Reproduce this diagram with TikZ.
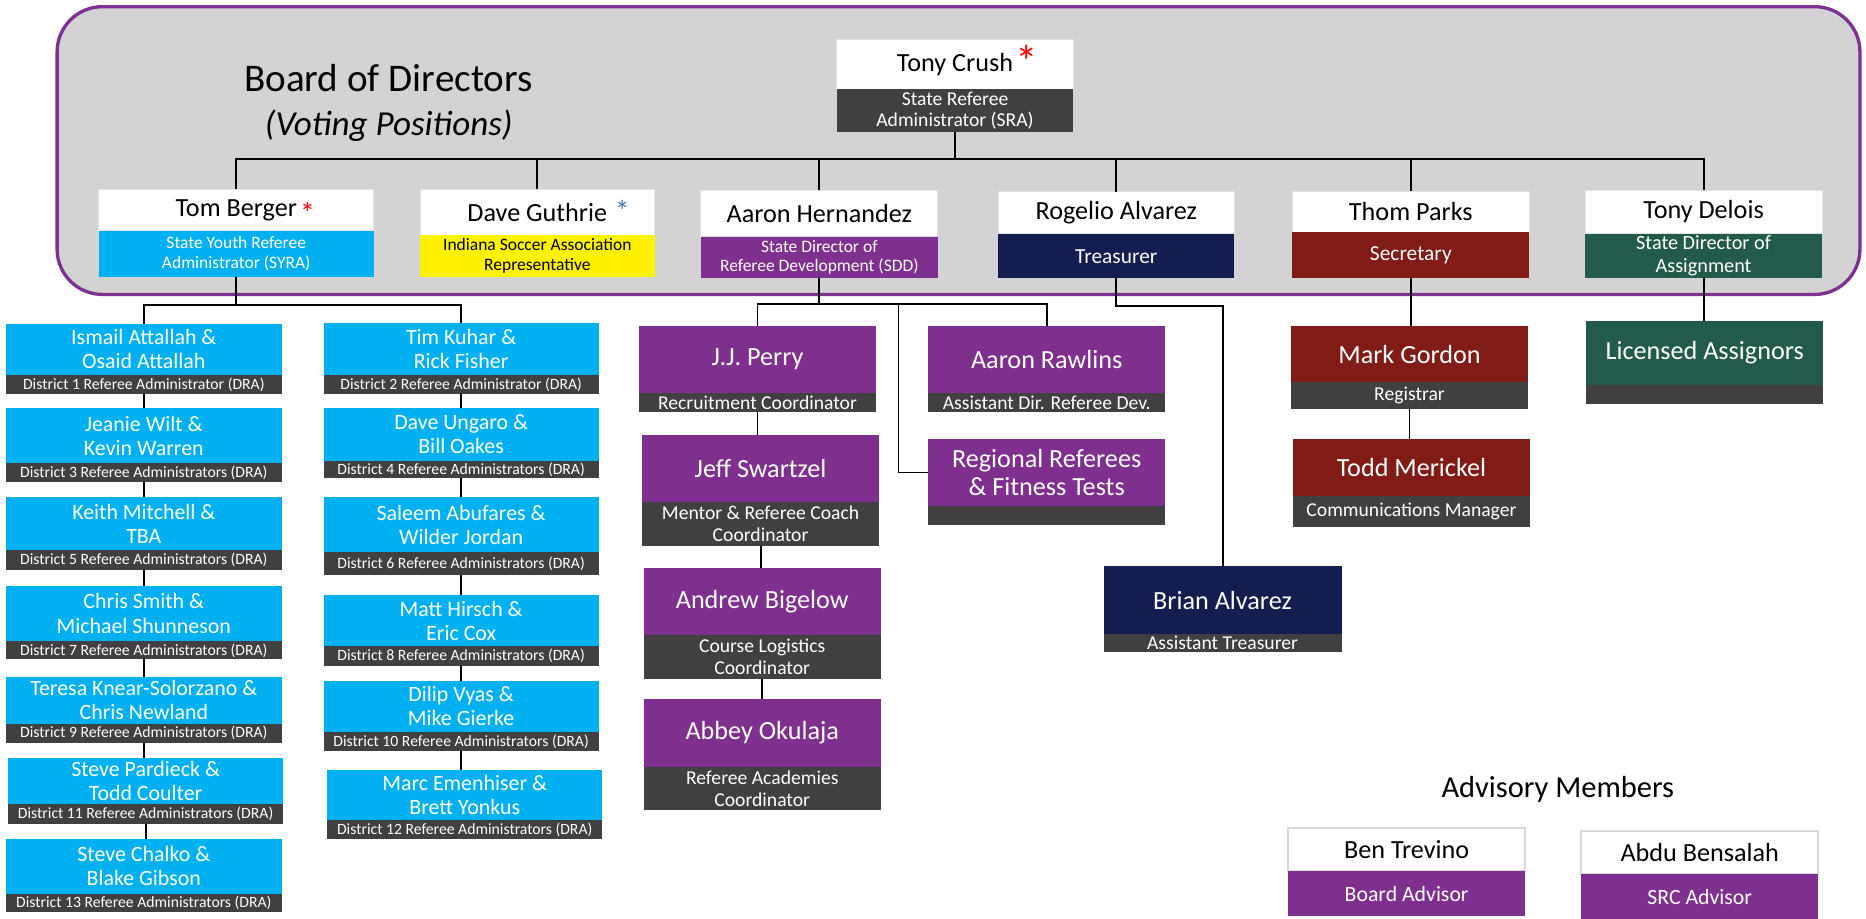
\documentclass[tikz,border=0pt]{standalone}
\usepackage{fontspec}
\setmainfont{Carlito}
\usetikzlibrary{calc}
\definecolor{panel}{HTML}{D3D3D3}
\definecolor{pborder}{HTML}{7E3192}
\definecolor{ppl}{HTML}{7F2F8E}
\definecolor{sky}{HTML}{00B0F0}
\definecolor{navy}{HTML}{131D50}
\definecolor{maroon}{HTML}{801B15}
\definecolor{pine}{HTML}{225B4B}
\definecolor{dgray}{HTML}{404040}
\definecolor{astblue}{HTML}{4472C4}
\definecolor{wedge}{HTML}{E4E4E4}
\definecolor{advedge}{HTML}{D9D9D9}
\newcommand\fs[2]{\fontsize{#1}{#2}\selectfont}
\newcommand\bx[6]{\node[#6, minimum width={#3pt-#2pt}, minimum height={#5pt-#4pt}] (#1) at (#2,#4)}
\tikzset{
  part/.style={inner sep=0pt, outer sep=0pt, align=center, anchor=north west},
  wtop/.style={part, fill=white, draw=wedge, line width=0.8pt, text=black, font=\fs{22}{24}},
  advtop/.style={part, fill=white, draw=advedge, line width=1.8pt, text=black, font=\fs{22}{24}},
  dran/.style={part, fill=sky, text=white, font=\fs{18.4}{20.2}},
  dras/.style={part, fill=dgray, text=white, font=\fs{13.2}{14}},
  pname/.style={part, fill=ppl, text=white, font=\fs{22}{23.8}},
  psub/.style={part, fill=dgray, text=white, font=\fs{16.5}{18.2}},
  conn/.style={draw=black, line width=1.6pt},
  ast/.style={inner sep=0pt, outer sep=0pt, anchor=north}
}
\begin{document}
\begin{tikzpicture}[x=1pt, y=-1pt]
\fill[white] (0,0) rectangle (1568,772);
\useasboundingbox (0,0) rectangle (1568,772);
% panel
\draw[line width=2.8pt, draw=pborder, fill=panel, rounded corners=38pt] (48,5.6) rectangle (1562.9,247.4);
\node[font=\fs{32.9}{36}, anchor=base] (bod) at (326.4,77) {Board of Directors};
\node[font=\itshape\fs{29.5}{32}, anchor=base] (vp) at (326.7,114) {(Voting Positions)};
% board boxes
\bx{tcn}{703}{902}{33}{75}{wtop}{Tony Crush};
\bx{tcs}{703}{902}{75}{111}{part, fill=dgray, text=white, font=\fs{16.5}{17.5}}{State Referee\\Administrator (SRA)};
\node[ast, text=red, font=\fs{38}{38}] (tcast) at (862.9,37.8) {*};
\bx{tbn}{83}{314}{159}{194}{wtop}{Tom Berger};
\bx{tbs}{83}{314}{194}{232.5}{part, fill=sky, text=white, font=\fs{14.7}{16.8}}{State Youth Referee\\Administrator (SYRA)};
\node[ast, text=red, font=\fs{25}{25}] (tbast) at (258.5,170) {*};
\bx{dgn}{353}{550}{159}{197.5}{wtop}{Dave Guthrie};
\bx{dgs}{353}{550}{197.5}{232.5}{part, fill=yellow, text=black, font=\fs{14.7}{16.2}}{Indiana Soccer Association\\Representative};
\node[ast, text=astblue, font=\fs{25}{25}] (dgast) at (523,168.5) {*};
\bx{ahn}{589}{788}{160}{199}{wtop}{Aaron Hernandez};
\bx{ahs}{589}{788}{199}{233.5}{part, fill=ppl, text=white, font=\fs{14.7}{16}}{State Director of\\Referee Development (SDD)};
\bx{ran}{839}{1037}{161}{196.6}{wtop}{Rogelio Alvarez};
\bx{ras}{839}{1037}{196.6}{234}{part, fill=navy, text=white, font=\fs{18}{20}}{Treasurer};
\bx{tpn}{1086}{1285}{160.5}{195}{wtop}{Thom Parks};
\bx{tps}{1086}{1285}{195}{233.3}{part, fill=maroon, text=white, font=\fs{18}{20}}{Secretary};
\bx{tdln}{1332}{1531}{159.7}{196.6}{wtop}{Tony Delois};
\bx{tdls}{1332}{1531}{196.6}{233.3}{part, fill=pine, text=white, font=\fs{17}{19.5}}{State Director of\\Assignment};
% DRA left column
\bx{l1n}{5}{236.7}{272}{315}{dran}{Ismail Attallah \&\\Osaid Attallah};
\bx{l1s}{5}{236.7}{315}{331}{dras}{District 1 Referee Administrator (DRA)};
\bx{l3n}{5}{236.7}{343}{389}{dran}{Jeanie Wilt \&\\Kevin Warren};
\bx{l3s}{5}{236.7}{389}{405}{dras}{District 3 Referee Administrators (DRA)};
\bx{l5n}{5}{236.7}{418}{462}{dran}{Keith Mitchell \&\\TBA};
\bx{l5s}{5}{236.7}{462}{479}{dras}{District 5 Referee Administrators (DRA)};
\bx{l7n}{5}{236.7}{492}{539}{dran}{Chris Smith \&\\Michael Shunneson};
\bx{l7s}{5}{236.7}{539}{554}{dras}{District 7 Referee Administrators (DRA)};
\bx{l9n}{5}{236.7}{569}{608}{dran}{Teresa Knear-Solorzano \&\\Chris Newland};
\bx{l9s}{5}{236.7}{608}{624}{dras}{District 9 Referee Administrators (DRA)};
\bx{l11n}{6.5}{238.2}{637}{676}{dran}{Steve Pardieck \&\\Todd Coulter};
\bx{l11s}{6.5}{238.2}{676}{692}{dras}{District 11 Referee Administrators (DRA)};
\bx{l13n}{5}{236.7}{705}{751}{dran}{Steve Chalko \&\\Blake Gibson};
\bx{l13s}{5}{236.7}{751}{766}{dras}{District 13 Referee Administrators (DRA)};
% DRA right column
\bx{r2n}{272}{503}{271}{315}{dran}{Tim Kuhar \&\\Rick Fisher};
\bx{r2s}{272}{503}{315}{331}{dras}{District 2 Referee Administrator (DRA)};
\bx{r4n}{272}{503}{343}{387}{dran}{Dave Ungaro \&\\Bill Oakes};
\bx{r4s}{272}{503}{387}{402}{dras}{District 4 Referee Administrators (DRA)};
\bx{r6n}{272}{503}{418}{464}{dran}{Saleem Abufares \&\\Wilder Jordan};
\bx{r6s}{272}{503}{464}{483}{dras}{District 6 Referee Administrators (DRA)};
\bx{r8n}{272}{503}{500}{543}{dran}{Matt Hirsch \&\\Eric Cox};
\bx{r8s}{272}{503}{543}{560}{dras}{District 8 Referee Administrators (DRA)};
\bx{r10n}{272}{503}{572}{615}{dran}{Dilip Vyas \&\\Mike Gierke};
\bx{r10s}{272}{503}{615}{631}{dras}{District 10 Referee Administrators (DRA)};
\bx{r12n}{275}{506}{647}{689}{dran}{Marc Emenhiser \&\\Brett Yonkus};
\bx{r12s}{275}{506}{689}{705}{dras}{District 12 Referee Administrators (DRA)};
% referee development
\bx{jjn}{537}{736}{274}{330.5}{pname}{J.J. Perry};
\bx{jjs}{537}{736}{330.5}{346}{psub}{Recruitment Coordinator};
\bx{jsn}{539.5}{738.7}{365.5}{421.8}{pname}{Jeff Swartzel};
\bx{jss}{539.5}{738.7}{421.8}{458.5}{psub}{Mentor \& Referee Coach\\Coordinator};
\bx{abn}{541}{740}{477.3}{533.6}{pname}{Andrew Bigelow};
\bx{abs}{541}{740}{533.6}{570.3}{psub}{Course Logistics\\Coordinator};
\bx{aon}{541}{740}{587.4}{644.5}{pname}{Abbey Okulaja};
\bx{aos}{541}{740}{644.5}{681}{psub}{Referee Academies\\Coordinator};
\bx{arn}{780}{979}{274}{330.5}{pname}{Aaron Rawlins};
\bx{ars}{780}{979}{330.5}{346}{psub}{Assistant Dir. Referee Dev.};
\bx{rrn}{780}{979}{369}{425}{pname}{Regional Referees\\\& Fitness Tests};
\bx{rrs}{780}{979}{425}{441}{psub}{};
% treasurer, secretary, assignment
\bx{ban}{927.3}{1127.3}{475.6}{532.8}{pname, fill=navy}{Brian Alvarez};
\bx{bas}{927.3}{1127.3}{532.8}{548}{psub}{Assistant Treasurer};
\bx{mgn}{1084.8}{1284}{274}{321}{pname, fill=maroon}{Mark Gordon};
\bx{mgs}{1084.8}{1284}{321}{344}{psub}{Registrar};
\bx{tmn}{1086.4}{1285.7}{369}{416.8}{pname, fill=maroon}{Todd Merickel};
\bx{tms}{1086.4}{1285.7}{416.8}{442.6}{psub}{Communications Manager};
\bx{lan}{1332.8}{1532}{269.7}{323.5}{pname, fill=pine}{Licensed Assignors};
\bx{las}{1332.8}{1532}{323.5}{339.6}{psub}{};
% advisory
\node[font=\fs{25.6}{28}, anchor=base] (advt) at (1309,670) {Advisory Members};
\bx{btn}{1082.4}{1281.6}{695.5}{732}{advtop}{Ben Trevino};
\bx{bts}{1082.4}{1281.6}{732}{770}{part, fill=ppl, text=white, font=\fs{18.3}{20}}{Board Advisor};
\bx{bsn}{1328.6}{1528}{698}{734.5}{advtop}{Abdu Bensalah};
\bx{bss}{1328.6}{1528}{734.5}{773}{part, fill=ppl, text=white, font=\fs{18.3}{20}}{SRC Advisor};
% connectors
\coordinate (bus) at (0,133.6);
\draw[conn] (tcs.south) -- (tcs.south |- bus);
\draw[conn] (tbn.north) |- (tdln.north |- bus) -- (tdln.north);
\foreach \n in {dgn,ahn,ran,tpn} \draw[conn] (\n.north) -- (\n.north |- bus);
\coordinate (tbbus) at (0,256);
\draw[conn] (tbs.south) -- (tbs.south |- tbbus);
\draw[conn] (l1n.north) |- (r2n.north |- tbbus) -- (r2n.north);
\draw[conn] (l1s.south) -- (l1s.south |- l3n.north);
\draw[conn] (l3s.south) -- (l3s.south |- l5n.north);
\draw[conn] (l5s.south) -- (l5s.south |- l7n.north);
\draw[conn] (l7s.south) -- (l7s.south |- l9n.north);
\draw[conn] (l9s.south) -- (l9s.south |- l11n.north);
\draw[conn] (l11s.south) -- (l11s.south |- l13n.north);
\draw[conn] (r2s.south) -- (r2s.south |- r4n.north);
\draw[conn] (r4s.south) -- (r4s.south |- r6n.north);
\draw[conn] (r6s.south) -- (r6s.south |- r8n.north);
\draw[conn] (r8s.south) -- (r8s.south |- r10n.north);
\draw[conn] (r10s.south) -- (r10s.south |- r12n.north);
\coordinate (ahbus) at (0,255.5);
\draw[conn] (ahs.south) -- (ahs.south |- ahbus);
\draw[conn] (jjn.north) |- (arn.north |- ahbus) -- (arn.north);
\coordinate (rrj) at (755,255.5);
\draw[conn] (rrj) |- (rrn.west);
\draw[conn] (jjs.south) -- (jjs.south |- jsn.north);
\draw[conn] (jss.south) -- (jss.south |- abn.north);
\draw[conn] (abs.south) -- (abs.south |- aon.north);
\draw[conn] (ras.south) -- ++(0,23) -| (ban.north);
\draw[conn] (tps.south) -- (tps.south |- mgn.north);
\draw[conn] (mgs.south) -- (mgs.south |- tmn.north);
\draw[conn] (tdls.south) -- (tdls.south |- lan.north);
\end{tikzpicture}
\end{document}
